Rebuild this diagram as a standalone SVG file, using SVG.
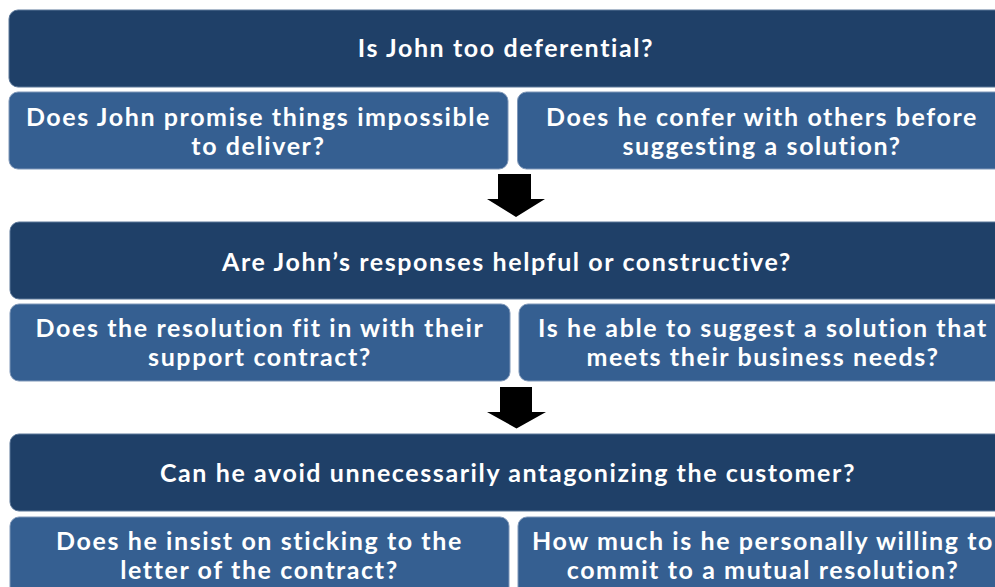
<svg xmlns="http://www.w3.org/2000/svg" width="995" height="587" viewBox="0 0 995 587">
<style>
.main{fill:#1F4068;stroke:#5a7698;stroke-width:1}
.sub{fill:#355F91;stroke:#7f97b8;stroke-width:1}
text{font-family:Lato,"Open Sans","Liberation Sans",sans-serif;font-weight:700;font-size:25px;letter-spacing:1.6px;fill:#ffffff;text-anchor:middle}
.arrow{fill:#000000}
</style>
<rect x="0" y="0" width="995" height="587" fill="#ffffff"/>
<g id="q1">
<rect class="main" x="9" y="10" width="996" height="77" rx="9"/>
<text x="506" y="57">Is John too deferential?</text>
</g>
<g id="q1a">
<rect class="sub" x="9" y="92" width="499" height="77" rx="9"/>
<text x="258.5" y="126">Does John promise things impossible</text>
<text x="258.5" y="155">to deliver?</text>
</g>
<g id="q1b">
<rect class="sub" x="517.5" y="92" width="490" height="77" rx="9"/>
<text x="762" y="126">Does he confer with others before</text>
<text x="762" y="155">suggesting a solution?</text>
</g>
<g id="q2">
<rect class="main" x="10" y="222" width="996" height="77" rx="9"/>
<text x="507" y="271">Are John’s responses helpful or constructive?</text>
</g>
<g id="q2a">
<rect class="sub" x="10" y="304" width="500" height="77" rx="9"/>
<text x="260" y="337">Does the resolution fit in with their</text>
<text x="260" y="366">support contract?</text>
</g>
<g id="q2b">
<rect class="sub" x="519" y="304" width="490" height="77" rx="9"/>
<text x="763" y="337">Is he able to suggest a solution that</text>
<text x="763" y="366">meets their business needs?</text>
</g>
<g id="q3">
<rect class="main" x="10" y="434" width="996" height="77" rx="9"/>
<text x="508" y="482">Can he avoid unnecessarily antagonizing the customer?</text>
</g>
<g id="q3a">
<rect class="sub" x="10" y="517" width="499" height="80" rx="9"/>
<text x="259.5" y="550">Does he insist on sticking to the</text>
<text x="259.5" y="579">letter of the contract?</text>
</g>
<g id="q3b">
<rect class="sub" x="518" y="517" width="490" height="80" rx="9"/>
<text x="763" y="550">How much is he personally willing to</text>
<text x="763" y="579">commit to a mutual resolution?</text>
</g>
<g id="connectors">
<polygon class="arrow" points="498,174 531,174 531,199 545,199 516,217 487,199 498,199"/>
<polygon class="arrow" points="500,387 532,387 532,412 546,412 516.5,428.5 487,412 500,412"/>
</g>
</svg>
